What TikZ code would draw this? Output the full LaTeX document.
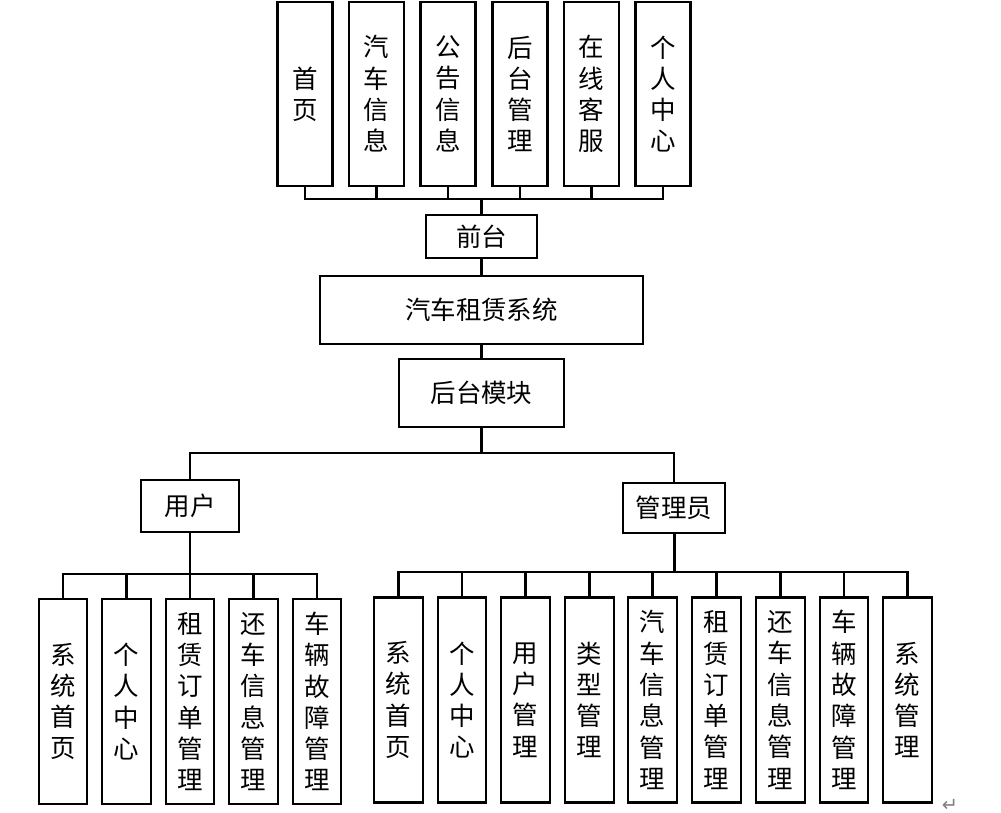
\documentclass[tikz,border=0pt]{standalone}
\usepackage{fontspec}
\newfontfamily\cjk{Noto Sans CJK SC}
\newfontfamily\symfont{DejaVu Sans}

\tikzset{
  box/.style={draw, line width=1.2pt, inner sep=0pt, align=center,
    font=\cjk\fontsize{14.5}{17.8}\selectfont},
  topbox/.style={box, minimum width=1.1cm, minimum height=3.68cm},
  leafbox/.style={box, minimum width=0.97cm, minimum height=4.1cm},
  link/.style={line width=1.2pt},
  trunk/.style={line width=1.7pt}
}

\begin{document}
\begin{tikzpicture}[x=0.02cm,y=-0.02cm]

\useasboundingbox (0,0) rectangle (1001,813);

% front end
\node[topbox] (t1) at (305,94)   {首\\页};
\node[topbox] (t2) at (376.5,94) {汽\\车\\信\\息};
\node[topbox] (t3) at (448,94)   {公\\告\\信\\息};
\node[topbox] (t4) at (520,94)   {后\\台\\管\\理};
\node[topbox] (t5) at (591.5,94) {在\\线\\客\\服};
\node[topbox] (t6) at (663,94)   {个\\人\\中\\心};

\node[box, minimum width=2.22cm, minimum height=0.86cm] (qt) at (481.5,236.5) {前台};
\node[box, minimum width=6.46cm, minimum height=1.36cm] (sys) at (481.5,310) {汽车租赁系统};
\node[box, minimum width=3.3cm, minimum height=1.36cm] (hm) at (481.5,393) {后台模块};

\coordinate (fbus) at (481.5,199);
\foreach \i in {1,...,6}
  \draw[link] (t\i.south) |- (fbus);
\draw[trunk] (fbus) -- (qt.north);
\draw[link] (qt.south) -- (sys.north);
\draw[link] (sys.south) -- (hm.north);

% back end
\node[box, minimum width=1.96cm, minimum height=1.04cm] (user) at (190,506) {用户};
\node[box, minimum width=2.04cm, minimum height=1.0cm] (admin) at (674,508) {管理员};

\coordinate (mbus) at (481.5,453);
\draw[link] (hm.south) -- (mbus);
\draw[link] (mbus) -| (user.north);
\draw[link] (mbus) -| (admin.north);

% user
\node[leafbox] (u1) at (63,701.5)    {系\\统\\首\\页};
\node[leafbox] (u2) at (126.5,701.5) {个\\人\\中\\心};
\node[leafbox] (u3) at (190,701.5)   {租\\赁\\订\\单\\管\\理};
\node[leafbox] (u4) at (253.5,701.5) {还\\车\\信\\息\\管\\理};
\node[leafbox] (u5) at (317,701.5)   {车\\辆\\故\\障\\管\\理};

\coordinate (ubus) at (190,574);
\draw[trunk] (user.south) -- (ubus);
\foreach \i in {1,...,5}
  \draw[link] (ubus) -| (u\i.north);

% admin
\node[leafbox] (a1) at (398.5,700) {系\\统\\首\\页};
\node[leafbox] (a2) at (462,700)   {个\\人\\中\\心};
\node[leafbox] (a3) at (525.5,700) {用\\户\\管\\理};
\node[leafbox] (a4) at (589.5,700) {类\\型\\管\\理};
\node[leafbox] (a5) at (652.5,700) {汽\\车\\信\\息\\管\\理};
\node[leafbox] (a6) at (716.5,700) {租\\赁\\订\\单\\管\\理};
\node[leafbox] (a7) at (780.5,700) {还\\车\\信\\息\\管\\理};
\node[leafbox] (a8) at (844,700)   {车\\辆\\故\\障\\管\\理};
\node[leafbox] (a9) at (907.5,700) {系\\统\\管\\理};

\coordinate (abus) at (674,572);
\draw[trunk] (admin.south) -- (abus);
\foreach \i in {1,...,9}
  \draw[link] (abus) -| (a\i.north);

\node[text=gray, font=\symfont\fontsize{11}{11}\selectfont] (ret) at (950,805) {↵};

\end{tikzpicture}
\end{document}
